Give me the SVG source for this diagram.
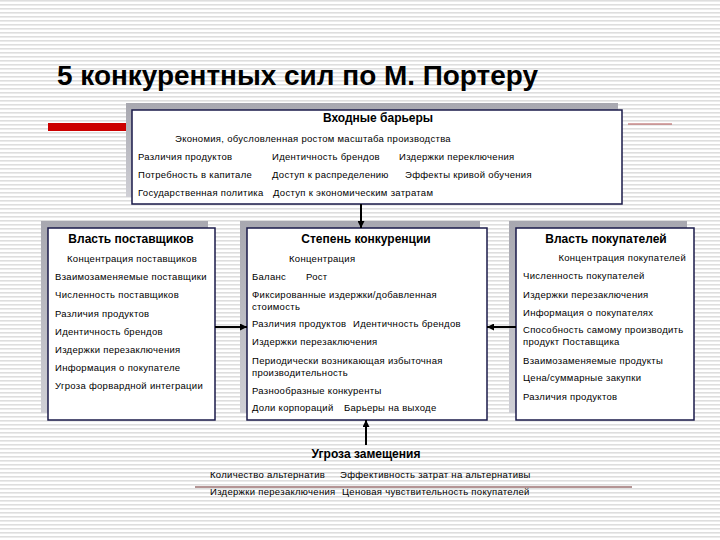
<svg xmlns="http://www.w3.org/2000/svg" width="720" height="540" viewBox="0 0 720 540">
<defs>
<pattern id="stripes" width="8" height="4" patternUnits="userSpaceOnUse">
<rect width="8" height="4" fill="#ffffff"/>
<rect y="0" width="8" height="1.6" fill="#dedede"/>
</pattern>
<linearGradient id="shadow" x1="0" y1="0" x2="0" y2="1">
<stop offset="0" stop-color="#a8a8b0"/>
<stop offset="1" stop-color="#d0d0d6"/>
</linearGradient>
<marker id="arr" viewBox="0 0 10 10" refX="10" refY="5" markerWidth="7" markerHeight="7" orient="auto" markerUnits="userSpaceOnUse">
<path d="M0,0 L10,5 L0,10 Z" fill="#000"/>
</marker>
<style>
.t{font-family:"Liberation Sans",Arial,sans-serif;font-size:9.5px;letter-spacing:0.3px;fill:#000;}
.h{font-family:"Liberation Sans",Arial,sans-serif;font-size:12px;font-weight:bold;fill:#000;text-anchor:middle;}
.box{fill:#fff;stroke:#1a1a4a;stroke-width:1.5;}
.sh{fill:url(#shadow);}
.c{stroke:#000;stroke-width:2;fill:none;}
</style>
</defs>
<rect width="720" height="540" fill="url(#stripes)"/>
<text x="57" y="85" font-family="'Liberation Sans',Arial,sans-serif" font-size="27" font-weight="bold" textLength="481" lengthAdjust="spacingAndGlyphs">5 конкурентных сил по М. Портеру</text>
<rect x="48" y="123" width="82" height="8" fill="#cc0000"/>
<line x1="628" y1="124" x2="672" y2="124" stroke="#b05050" stroke-width="1.2"/>
<line x1="195" y1="487" x2="632" y2="487" stroke="#6a2a2a" stroke-width="1.2"/>

<g id="entry-barriers">
<rect class="sh" x="126" y="103" width="492" height="94"/>
<rect class="box" x="132" y="110" width="490" height="94"/>
<text class="h" x="378" y="122">Входные барьеры</text>
<text class="t" x="175" y="142">Экономия, обусловленная ростом масштаба производства</text>
<text class="t" x="138" y="160">Различия продуктов</text>
<text class="t" x="272" y="160">Идентичность брендов</text>
<text class="t" x="399" y="160">Издержки переключения</text>
<text class="t" x="138" y="178">Потребность в капитале</text>
<text class="t" x="272" y="178">Доступ к распределению</text>
<text class="t" x="405" y="178">Эффекты кривой обучения</text>
<text class="t" x="138" y="196">Государственная политика</text>
<text class="t" x="273" y="196">Доступ к экономическим затратам</text>
</g>

<g id="suppliers">
<rect class="sh" x="41" y="221" width="167" height="192"/>
<rect class="box" x="48" y="228" width="167" height="192"/>
<text class="h" x="131" y="243">Власть поставщиков</text>
<text class="t" x="67" y="262">Концентрация поставщиков</text>
<text class="t" x="55" y="280">Взаимозаменяемые поставщики</text>
<text class="t" x="55" y="298">Численность поставщиков</text>
<text class="t" x="55" y="317">Различия продуктов</text>
<text class="t" x="55" y="335">Идентичность брендов</text>
<text class="t" x="55" y="353">Издержки перезаключения</text>
<text class="t" x="55" y="371">Информация о покупателе</text>
<text class="t" x="55" y="389">Угроза форвардной интеграции</text>
</g>

<g id="rivalry">
<rect class="sh" x="240" y="221" width="240" height="192"/>
<rect class="box" x="247" y="228" width="240" height="192"/>
<text class="h" x="366" y="243">Степень конкуренции</text>
<text class="t" x="289" y="262">Концентрация</text>
<text class="t" x="252" y="280">Баланс</text>
<text class="t" x="306" y="280">Рост</text>
<text class="t" x="252" y="298">Фиксированные издержки/добавленная</text>
<text class="t" x="252" y="310">стоимость</text>
<text class="t" x="252" y="327">Различия продуктов</text>
<text class="t" x="353" y="327">Идентичность брендов</text>
<text class="t" x="252" y="345">Издержки перезаключения</text>
<text class="t" x="252" y="364">Периодически возникающая избыточная</text>
<text class="t" x="252" y="376">производительность</text>
<text class="t" x="252" y="394">Разнообразные конкуренты</text>
<text class="t" x="252" y="411">Доли корпораций</text>
<text class="t" x="344" y="411">Барьеры на выходе</text>
</g>

<g id="buyers">
<rect class="sh" x="509" y="221" width="178" height="192"/>
<rect class="box" x="516" y="228" width="178" height="192"/>
<text class="h" x="606" y="243">Власть покупателей</text>
<text class="t" x="686" y="261" text-anchor="end">Концентрация покупателей</text>
<text class="t" x="523" y="279">Численность покупателей</text>
<text class="t" x="523" y="298">Издержки перезаключения</text>
<text class="t" x="523" y="316">Информация о покупателях</text>
<text class="t" x="523" y="333">Способность самому производить</text>
<text class="t" x="523" y="345">продукт Поставщика</text>
<text class="t" x="523" y="364">Взаимозаменяемые продукты</text>
<text class="t" x="523" y="381">Цена/суммарные закупки</text>
<text class="t" x="523" y="400">Различия продуктов</text>
</g>

<g id="substitutes">
<text class="h" x="366" y="458">Угроза замещения</text>
<text class="t" x="210" y="478">Количество альтернатив</text>
<text class="t" x="340" y="478">Эффективность затрат на альтернативы</text>
<text class="t" x="210" y="495">Издержки перезаключения</text>
<text class="t" x="342" y="495">Ценовая чувствительность покупателей</text>
</g>

<g id="connectors">
<line class="c" x1="361" y1="204" x2="361" y2="228" marker-end="url(#arr)"/>
<line class="c" x1="215" y1="327" x2="247" y2="327" marker-end="url(#arr)"/>
<line class="c" x1="516" y1="327" x2="487" y2="327" marker-end="url(#arr)"/>
<line class="c" x1="366" y1="445" x2="366" y2="420" marker-end="url(#arr)"/>
</g>
</svg>
